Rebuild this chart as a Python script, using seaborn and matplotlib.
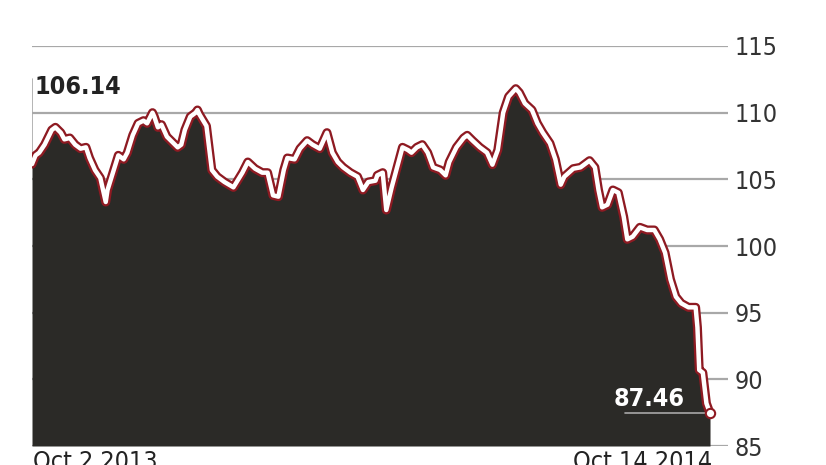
#!/usr/bin/env python3
# -*- coding: utf-8 -*-
"""
Price series, Oct 2 2013 - Oct 14 2014 (area chart, economist style)
"""
import matplotlib.pyplot as plt
import seaborn as sns
import pandas as pd

# days after Oct 2 2013 and the price
days = [0, 2, 4, 7, 11, 13, 16, 18, 21, 24,
        27, 30, 32, 35, 38, 41, 42, 45, 48, 51,
        53, 56, 59, 62, 64, 67, 68, 70, 72, 75,
        78, 81, 83, 85, 88, 91, 92, 93, 97, 100,
        103, 107, 112, 117, 120, 124, 128, 131, 134, 137,
        140, 142, 146, 149, 153, 156, 160, 164, 167, 170,
        173, 177, 181, 184, 187, 191, 192, 195, 197, 200,
        203, 206, 209, 211, 214, 217, 220, 223, 227, 230,
        232, 236, 240, 242, 245, 249, 253, 256, 259, 262,
        265, 269, 271, 274, 278, 281, 284, 288, 291, 294,
        296, 301, 305, 310, 313, 315, 317, 320, 323, 326,
        329, 331, 334, 338, 342, 346, 349, 352, 355, 358,
        361, 365, 369, 370, 371, 373, 375, 377]
price = [106.14, 106.8, 107.0, 107.6, 108.7, 108.9, 108.5, 108.0, 108.1, 107.6,
         107.3, 107.4, 106.6, 105.7, 105.1, 103.3, 104.2, 105.5, 106.8, 106.5,
         107.0, 108.3, 109.2, 109.4, 109.2, 110.0, 109.7, 108.9, 109.1, 108.2,
         107.8, 107.4, 107.6, 108.7, 109.7, 110.0, 110.2, 109.9, 109.0, 105.7,
         105.2, 104.8, 104.4, 105.5, 106.3, 105.8, 105.5, 105.5, 103.8, 103.7,
         105.7, 106.6, 106.5, 107.3, 107.9, 107.6, 107.3, 108.5, 107.0, 106.3,
         105.9, 105.5, 105.2, 104.2, 104.8, 104.9, 105.3, 105.5, 102.7, 104.4,
         105.9, 107.4, 107.2, 107.0, 107.4, 107.6, 107.0, 105.9, 105.7, 105.3,
         106.3, 107.4, 108.1, 108.3, 107.9, 107.4, 107.0, 106.1, 107.2, 110.0,
         111.2, 111.8, 111.5, 110.7, 110.2, 109.2, 108.5, 107.7, 106.5, 104.6,
         105.2, 105.8, 105.9, 106.4, 105.9, 104.2, 102.9, 103.1, 104.2, 104.0,
         102.2, 100.5, 100.7, 101.4, 101.2, 101.2, 100.5, 99.5, 97.5, 96.2,
         95.7, 95.4, 95.4, 93.9, 90.7, 90.5, 88.2, 87.46]

y_ticks = [85, 90, 95, 100, 105, 110, 115]
start_label = "Oct 2 2013"
end_label = "Oct 14 2014"

start = pd.Timestamp("2013-10-02")
df = pd.DataFrame({'Date': start + pd.to_timedelta(days, unit='D'), 'Price': price})

sns.set_style("white")
plt.rcParams['font.family'] = ['DejaVu Sans']
plt.rcParams['font.stretch'] = 'condensed'

fig = plt.figure(figsize=(8.26, 4.65), dpi=100)
ax = fig.add_axes([32 / 826, 19 / 465, 696 / 826, 400 / 465])

# gridlines
for t in y_ticks:
    ax.axhline(t, color='#a8a8a8', lw=1.6, zorder=0)

# dark area
ax.fill_between(df['Date'], df['Price'], 85, color='#2b2a27', lw=0, zorder=1)

# red outline + white core
sns.lineplot(data=df, x='Date', y='Price', ax=ax, color='#8e1a22', lw=6.5,
             zorder=2, solid_joinstyle='round')
sns.lineplot(data=df, x='Date', y='Price', ax=ax, color='white', lw=3.2,
             zorder=3, solid_joinstyle='round')
ax.scatter(df['Date'].iloc[-1], df['Price'].iloc[-1], s=45, color='white',
           edgecolor='#8e1a22', lw=1.5, zorder=4)

ax.set_ylim(85, 115)
ax.set_xlim(start, start + pd.Timedelta(days=387))
ax.set_xlabel('')
ax.set_ylabel('')
ax.set_xticks([])
ax.yaxis.tick_right()
ax.set_yticks(y_ticks)
ax.set_yticklabels([str(t) for t in y_ticks], fontsize=18, color='#333333',
                   fontstretch='condensed')
ax.tick_params(axis='y', length=0, pad=5)
for s in ax.spines.values():
    s.set_visible(False)

# start annotation
ax.plot([start, start], [price[0], 112.5], color='#a8a8a8', lw=1.2, zorder=0)
ax.text(start + pd.Timedelta(days=1.5), 111.05, f"{price[0]:.2f}", fontsize=18,
        weight='bold', color='#222222', va='bottom', ha='left',
        fontstretch='condensed')

# end annotation
end = df['Date'].iloc[-1]
ax.plot([end - pd.Timedelta(days=47), end], [price[-1], price[-1]],
        color='#a8a8a8', lw=1.2, zorder=3)
ax.text(end - pd.Timedelta(days=14), price[-1] + 0.2, f"{price[-1]:.2f}",
        fontsize=18, weight='bold', color='white', va='bottom', ha='right',
        zorder=5, fontstretch='condensed')

# date labels along the bottom (cut by the frame edge, as in the original)
fig.text(33 / 826, 1 - 450 / 465, start_label, fontsize=18, color='#222222',
         ha='left', va='top', fontstretch='condensed')
fig.text(712 / 826, 1 - 450 / 465, end_label, fontsize=18, color='#222222',
         ha='right', va='top', fontstretch='condensed')

plt.savefig('out.png', dpi=100)
